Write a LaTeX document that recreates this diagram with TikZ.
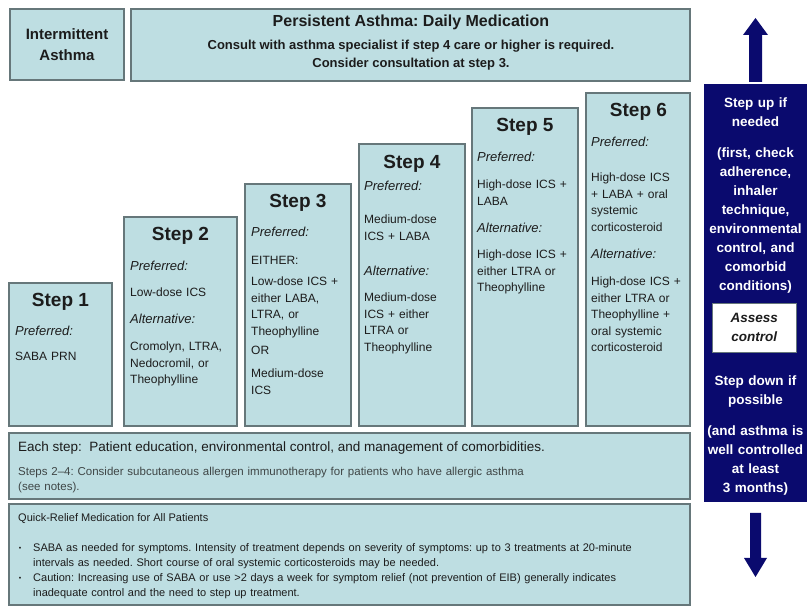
\documentclass[tikz,border=0pt]{standalone}
\usepackage{fontspec}
\setmainfont{Liberation Sans}
\usepackage{tikz}
\usetikzlibrary{positioning, calc}
\definecolor{boxfill}{HTML}{BEDEE2}
\definecolor{boxline}{HTML}{66777A}
\definecolor{navy}{HTML}{0A0A6E}
\definecolor{ink}{HTML}{1C1C1C}
\definecolor{softink}{HTML}{3F4646}
\frenchspacing
\begin{document}
\begin{tikzpicture}[x=1pt, y=-1pt]
	\tikzset{
		panelbox/.style={draw=boxline, fill=boxfill, line width=1.2pt, inner sep=0pt, outer sep=0pt, anchor=north west},
		stephead/.style={font=\fontsize{19}{22}\selectfont\bfseries, text=ink, inner sep=0pt},
		steplabel/.style={font=\fontsize{13}{16}\selectfont\itshape, anchor=base west, inner sep=0pt, text=ink},
		steptext/.style={font=\fontsize{12}{16.5}\selectfont, anchor=base west, inner sep=0pt, align=left, text width=100pt, text=ink},
		sidetext/.style={font=\fontsize{13.5}{19}\selectfont\bfseries, text=white, anchor=base, inner sep=0pt, align=center, text width=103pt},
		bullet/.style={font=\fontsize{7}{8}\selectfont, text=ink, anchor=base, inner sep=0pt}
	}
	\useasboundingbox (0,0) rectangle (807,609);
	% header boxes
	\node[panelbox, minimum width=114pt, minimum height=71pt, align=center, font=\fontsize{15}{21}\selectfont\bfseries, text=ink] (inter) at (10,9) {Intermittent\\Asthma};
	\node[panelbox, minimum width=559pt, minimum height=72pt] (persist) at (131,9) {};
	\node[font=\fontsize{16}{19}\selectfont\bfseries, text=ink, inner sep=0pt] (persisthead) at (411,22) {Persistent Asthma: Daily Medication};
	\node[font=\fontsize{13}{18}\selectfont\bfseries, text=ink, inner sep=0pt, align=center] (persistnote) at (411,55) {Consult with asthma specialist if step 4 care or higher is required.\\Consider consultation at step 3.};
	% the six steps
	\node[panelbox, minimum width=103pt, minimum height=143pt] (s1) at (9,283) {};
	\node[panelbox, minimum width=113pt, minimum height=209pt] (s2) at (124,217) {};
	\node[panelbox, minimum width=106pt, minimum height=242pt] (s3) at (245,184) {};
	\node[panelbox, minimum width=106pt, minimum height=282pt] (s4) at (359,144) {};
	\node[panelbox, minimum width=106pt, minimum height=318pt] (s5) at (472,108) {};
	\node[panelbox, minimum width=104pt, minimum height=333pt] (s6) at (586,93) {};
	% step 1
	\node[stephead] (s1head) at (60.5,302) {Step 1};
	\node[steplabel] (s1pref) at (15,336) {Preferred:};
	\node[steptext] (s1prefx) at (15,361) {SABA PRN};
	% step 2
	\node[stephead] (s2head) at (180.5,236) {Step 2};
	\node[steplabel] (s2pref) at (130,271) {Preferred:};
	\node[steptext] (s2prefx) at (130,297) {Low-dose ICS};
	\node[steplabel] (s2alt) at (130,324) {Alternative:};
	\node[steptext] (s2altx) at (130,351) {Cromolyn, LTRA,\\Nedocromil, or\\Theophylline};
	% step 3
	\node[stephead] (s3head) at (298,203) {Step 3};
	\node[steplabel] (s3pref) at (251,237) {Preferred:};
	\node[steptext] (s3either) at (251,265) {EITHER:};
	\node[steptext] (s3prefx) at (251,286) {Low-dose ICS +\\either LABA,\\LTRA, or\\Theophylline};
	\node[steptext] (s3or) at (251,355) {OR};
	\node[steptext] (s3orx) at (251,378) {Medium-dose\\ICS};
	% step 4
	\node[stephead] (s4head) at (412,164) {Step 4};
	\node[steplabel] (s4pref) at (364,191) {Preferred:};
	\node[steptext] (s4prefx) at (364,224) {Medium-dose\\ICS + LABA};
	\node[steplabel] (s4alt) at (364,276) {Alternative:};
	\node[steptext] (s4altx) at (364,302) {Medium-dose\\ICS + either\\LTRA or\\Theophylline};
	% step 5
	\node[stephead] (s5head) at (525,127) {Step 5};
	\node[steplabel] (s5pref) at (477,162) {Preferred:};
	\node[steptext] (s5prefx) at (477,189) {High-dose ICS +\\LABA};
	\node[steplabel] (s5alt) at (477,233) {Alternative:};
	\node[steptext] (s5altx) at (477,259) {High-dose ICS +\\either LTRA or\\Theophylline};
	% step 6
	\node[stephead] (s6head) at (638.5,112) {Step 6};
	\node[steplabel] (s6pref) at (591,147) {Preferred:};
	\node[steptext] (s6prefx) at (591,182) {High-dose ICS\\+ LABA + oral\\systemic\\corticosteroid};
	\node[steplabel] (s6alt) at (591,259) {Alternative:};
	\node[steptext] (s6altx) at (591,286) {High-dose ICS +\\either LTRA or\\Theophylline +\\oral systemic\\corticosteroid};
	% bottom boxes
	\node[panelbox, minimum width=681pt, minimum height=66pt] (each) at (9,433) {};
	\node[font=\fontsize{13.5}{17}\selectfont, text=ink, anchor=base west, inner sep=0pt] (eachx) at (18,452) {Each step:\ \ Patient education, environmental control, and management of comorbidities.};
	\node[font=\fontsize{11.5}{15}\selectfont, text=softink, anchor=base west, inner sep=0pt, align=left, text width=600pt] (immuno) at (18,476) {Steps 2--4: Consider subcutaneous allergen immunotherapy for patients who have allergic asthma\\(see notes).};
	\node[panelbox, minimum width=681pt, minimum height=101pt] (quick) at (9,504) {};
	\node[font=\fontsize{11}{14}\selectfont, text=ink, anchor=base west, inner sep=0pt] (quickhead) at (18,522) {Quick-Relief Medication for All Patients};
	\node[font=\fontsize{11}{14.5}\selectfont, text=ink, anchor=base west, inner sep=0pt, align=left, text width=640pt] (quickone) at (33,552) {SABA as needed for symptoms. Intensity of treatment depends on severity of symptoms: up to 3 treatments at 20-minute\\intervals as needed. Short course of oral systemic corticosteroids may be needed.};
	\node[font=\fontsize{11}{14.5}\selectfont, text=ink, anchor=base west, inner sep=0pt, align=left, text width=640pt] (quicktwo) at (33,582) {Caution: Increasing use of SABA or use >2 days a week for symptom relief (not prevention of EIB) generally indicates\\inadequate control and the need to step up treatment.};
	\node[bullet] (dotone) at (20,551) {\textbullet};
	\node[bullet] (dottwo) at (20,581) {\textbullet};
	% side panel
	\node[fill=navy, minimum width=103pt, minimum height=418pt, inner sep=0pt, outer sep=0pt, anchor=north west] (side) at (704,84) {};
	\fill[navy] (749,82) -- (749,35) -- (743,35) -- (755.5,18) -- (768,35) -- (762,35) -- (762,82) -- cycle;
	\fill[navy] (750,513) -- (750,558) -- (744,558) -- (755.5,577) -- (767,558) -- (761,558) -- (761,513) -- cycle;
	\node[sidetext] (stepup) at (755.5,108) {Step up if\\needed};
	\node[sidetext] (stepupx) at (755.5,158) {(first, check\\adherence,\\inhaler\\technique,\\environmental\\control, and\\comorbid\\conditions)};
	\node[fill=white, draw=boxline, line width=0.6pt, minimum width=84pt, minimum height=49pt, inner sep=0pt, anchor=north west, align=center, font=\fontsize{13.5}{19}\selectfont\bfseries\itshape, text=ink] (assess) at (712,303) {Assess\\control};
	\node[sidetext] (stepdown) at (755.5,386) {Step down if\\possible};
	\node[sidetext] (stepdownx) at (755.5,436) {(and asthma is\\well controlled\\at least\\3 months)};
\end{tikzpicture}
\end{document}
